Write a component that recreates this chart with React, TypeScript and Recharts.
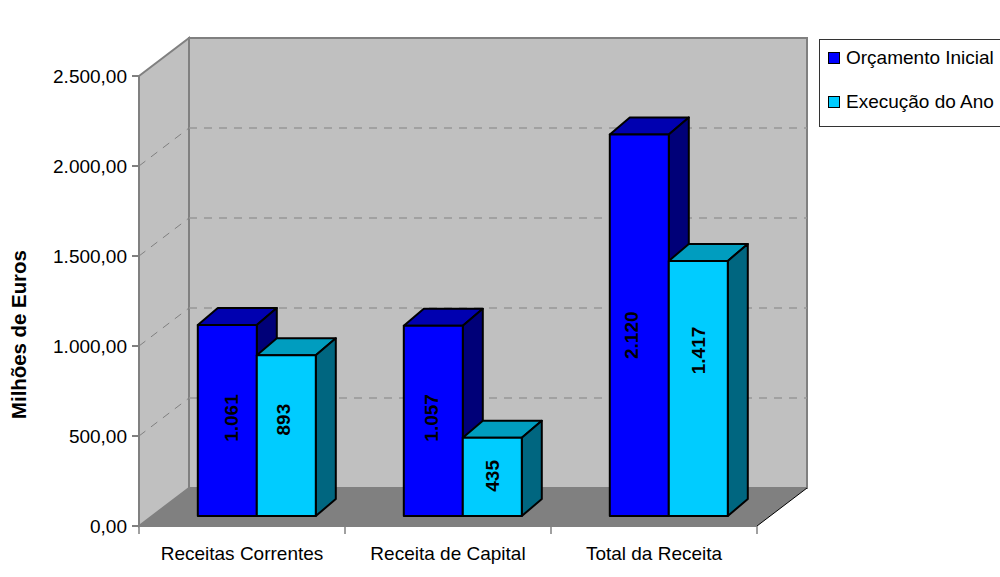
import React from 'react';
import { BarChart, Bar, XAxis, YAxis, Legend, LabelList, Customized, usePlotArea } from 'recharts';

const categories = ['Receitas Correntes', 'Receita de Capital', 'Total da Receita'];
const orcamentoInicial = [1061, 1057, 2120];
const execucaoDoAno = [893, 435, 1417];
const yTicks = [0, 500, 1000, 1500, 2000, 2500];
const yMax = 2500;
const rows = categories.map((name, i) => ({ name, orcamento: orcamentoInicial[i], execucao: execucaoDoAno[i] }));

const FONT = '"Liberation Sans", Arial, sans-serif';
const FS = 19;
const WALL_DX = 50, WALL_DY = -38;
const BAR_DX = 14.8, BAR_DY = -10, DEPTH_X = 20, DEPTH_Y = -17;
const orcamentoNudge = [[4.5, -2.5], [-2, -3], [-8, 10]];
const execucaoNudge = [[-3, -16], [0, -1], [0, -38]];

const fmt = (v: number) => v.toFixed(2).replace('.', ',').replace(/\B(?=(\d{3})+(?!\d))/, '.');
const fmtLabel = (v: number) => String(v).replace(/\B(?=(\d{3})+(?!\d))/, '.');

function Walls() {
  const p = usePlotArea();
  if (!p) return null;
  const { x, y, width: w, height: h } = p;
  const pts = (a: number[][]) => a.map((q) => q.join(',')).join(' ');
  const inner = yTicks.filter((t) => t > 0 && t < yMax);
  const bottom = y + h;
  return (
    <g>
      <polygon points={pts([[x, y], [x + WALL_DX, y + WALL_DY], [x + WALL_DX, bottom + WALL_DY], [x, bottom]])} fill="#C0C0C0" stroke="#808080" strokeWidth={2} />
      <rect x={x + WALL_DX} y={y + WALL_DY} width={w} height={h} fill="#C0C0C0" stroke="#808080" strokeWidth={2} />
      {inner.map((t) => {
        const ty = bottom - (t / yMax) * h;
        return (
          <g key={t}>
            <line x1={x} y1={ty} x2={x + WALL_DX} y2={ty + WALL_DY} stroke="#808080" strokeWidth={1} strokeDasharray="8 7" />
            <line x1={x + WALL_DX} y1={ty + WALL_DY} x2={x + w + WALL_DX} y2={ty + WALL_DY} stroke="#969696" strokeWidth={1.5} strokeDasharray="8 7" />
          </g>
        );
      })}
      <polygon points={pts([[x, bottom], [x + WALL_DX, bottom + WALL_DY], [x + w + WALL_DX, bottom + WALL_DY], [x + w, bottom]])} fill="#808080" />
      <line x1={x + w} y1={bottom} x2={x + w + WALL_DX} y2={bottom + WALL_DY} stroke="#000" strokeWidth={1} />
      <line x1={x} y1={bottom} x2={x + w} y2={bottom} stroke="#777" strokeWidth={2} />
      {categories.map((_, i) => i).concat(categories.length).map((i) => {
        const tx = x + (i * w) / categories.length;
        return <line key={i} x1={tx} y1={bottom} x2={tx} y2={bottom + 8} stroke="#808080" strokeWidth={1.5} />;
      })}
    </g>
  );
}

function Box3D(props: any) {
  const { x, y, width: w, height: h, fill, topFill, sideFill } = props;
  const X = x + BAR_DX, Y = y + BAR_DY;
  const pts = (a: number[][]) => a.map((q) => q.join(',')).join(' ');
  const s = { stroke: '#000', strokeWidth: 2, strokeLinejoin: 'round' as const };
  return (
    <g>
      <polygon points={pts([[X, Y], [X + DEPTH_X, Y + DEPTH_Y], [X + w + DEPTH_X, Y + DEPTH_Y], [X + w, Y]])} fill={topFill} {...s} />
      <polygon points={pts([[X + w, Y], [X + w + DEPTH_X, Y + DEPTH_Y], [X + w + DEPTH_X, Y + h + DEPTH_Y], [X + w, Y + h]])} fill={sideFill} {...s} />
      <rect x={X} y={Y} width={w} height={h} fill={fill} {...s} />
    </g>
  );
}

function barLabel(nudge: number[][]) {
  return (props: any) => {
    const { x, y, width: w, height: h, value, index } = props;
    const cx = x + BAR_DX + w / 2 + nudge[index][0];
    const cy = y + BAR_DY + h / 2 + nudge[index][1];
    return (
      <text x={cx} y={cy} transform={`rotate(-90 ${cx} ${cy})`} textAnchor="middle" dominantBaseline="central" fontFamily={FONT} fontSize={FS} fontWeight="bold" fill="#000">
        {fmtLabel(value)}
      </text>
    );
  };
}

function LegendBox({ payload }: any) {
  return (
    <div style={{ position: 'relative', width: 200, height: 88, boxSizing: 'border-box', border: '1px solid #333', background: '#fff', fontFamily: FONT, fontSize: FS }}>
      {(payload || []).map((e: any, i: number) => (
        <div key={e.value} style={{ position: 'absolute', left: 8, top: 11 + i * 44, display: 'flex', alignItems: 'center', whiteSpace: 'nowrap', height: 14 }}>
          <span style={{ width: 10, height: 10, background: e.color, border: '1.5px solid #000', display: 'inline-block', marginRight: 6 }} />
          <span style={{ color: '#000' }}>{e.value}</span>
        </div>
      ))}
    </div>
  );
}

export default function App() {
  return (
    <div style={{ position: 'absolute', left: 0, top: 0, width: 1000, height: 577, overflow: 'hidden', background: '#fff' }}>
      <BarChart width={1000} height={577} data={rows} margin={{ top: 76, right: 243, bottom: 0, left: 0 }} barCategoryGap={44} barGap={0}>
        <Customized component={<Walls />} />
        <XAxis dataKey="name" height={51} interval={0} tickLine={false} tickMargin={15} stroke="#808080" strokeWidth={2} tick={{ fill: '#000', fontFamily: FONT, fontSize: FS }} />
        <YAxis width={139} domain={[0, yMax]} ticks={yTicks} interval={0} tickFormatter={fmt} tickSize={7} tickMargin={5} stroke="#808080" strokeWidth={2} tick={{ fill: '#000', fontFamily: FONT, fontSize: FS }}
          label={{ value: 'Milhões de Euros', angle: -90, position: 'insideLeft', dx: 14, dy: 118, style: { fontFamily: FONT, fontSize: 20.4, fontWeight: 'bold', fill: '#000' } }} />
        <Legend layout="horizontal" verticalAlign="middle" align="center" itemSorter={null as any} wrapperStyle={{ left: 819, top: 39, width: 200, height: 88 }} content={<LegendBox />} />
        <Bar dataKey="orcamento" name="Orçamento Inicial" fill="#0000FF" isAnimationActive={false} shape={(p: any) => <Box3D {...p} fill="#0000FF" topFill="#0000B0" sideFill="#000078" />}>
          <LabelList dataKey="orcamento" content={barLabel(orcamentoNudge)} />
        </Bar>
        <Bar dataKey="execucao" name="Execução do Ano" fill="#00CCFF" isAnimationActive={false} shape={(p: any) => <Box3D {...p} fill="#00CCFF" topFill="#009DBF" sideFill="#006680" />}>
          <LabelList dataKey="execucao" content={barLabel(execucaoNudge)} />
        </Bar>
      </BarChart>
    </div>
  );
}
